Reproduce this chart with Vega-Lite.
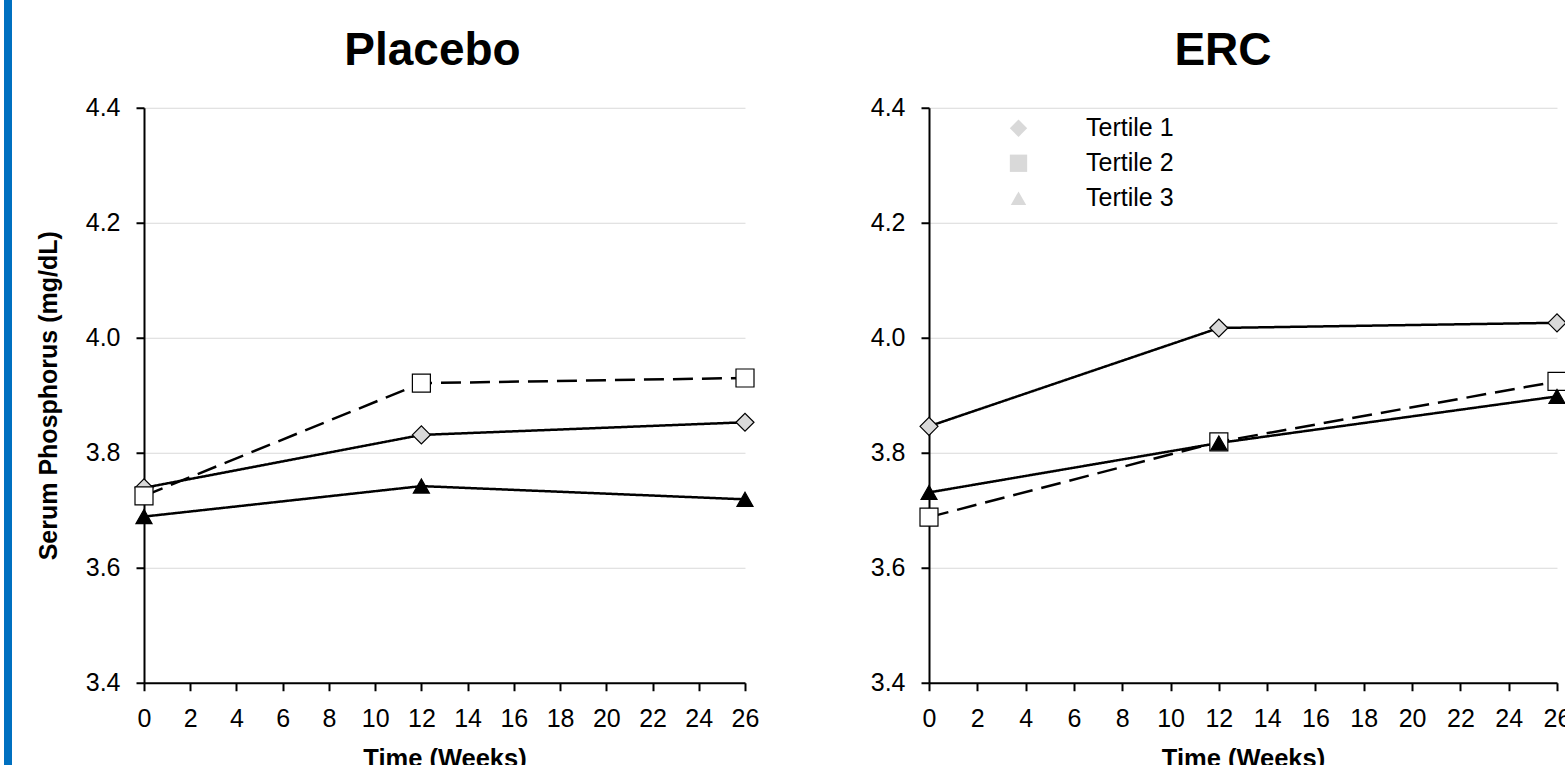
{
  "$schema": "https://vega.github.io/schema/vega-lite/v6.json",
  "background": "white",
  "padding": {"left": 4, "top": 0, "right": 0, "bottom": 0},
  "autosize": {"type": "pad"},
  "config": {
    "font": "Liberation Sans",
    "view": {"stroke": null},
    "axis": {
      "labelFont": "Liberation Sans", "labelFontSize": 25, "labelColor": "black",
      "titleFont": "Liberation Sans", "titleFontSize": 25.5, "titleFontWeight": "bold", "titleColor": "black",
      "domainColor": "black", "domainWidth": 2, "tickColor": "black", "tickWidth": 2, "tickSize": 8,
      "labelPadding": 16, "gridColor": "#d9d9d9", "gridWidth": 1, "labelFlush": false, "labelOverlap": false
    },
    "axisX": {"grid": false, "titlePadding": 15},
    "axisY": {"grid": true, "titlePadding": 24, "titleFontSize": 25},
    "title": {"font": "Liberation Sans", "fontSize": 46, "fontWeight": "bold", "color": "black", "anchor": "middle", "frame": "group", "baseline": "alphabetic", "offset": 21},
    "legend": {
      "labelFont": "Liberation Sans", "labelFontSize": 25, "labelColor": "black",
      "symbolSize": 300, "symbolStrokeWidth": 1.2, "symbolStrokeColor": "black", "symbolOpacity": 1,
      "symbolBaseFillColor": "#d9d9d9",
      "symbolOffset": 23, "labelOffset": 55, "rowPadding": 9, "padding": 0
    }
  },
  "datasets": {
    "phos": [
      {"panel": "Placebo", "tertile": "Tertile 1", "week": 0, "value": 3.739},
      {"panel": "Placebo", "tertile": "Tertile 1", "week": 12, "value": 3.831},
      {"panel": "Placebo", "tertile": "Tertile 1", "week": 26, "value": 3.853},
      {"panel": "Placebo", "tertile": "Tertile 2", "week": 0, "value": 3.725},
      {"panel": "Placebo", "tertile": "Tertile 2", "week": 12, "value": 3.921},
      {"panel": "Placebo", "tertile": "Tertile 2", "week": 26, "value": 3.930},
      {"panel": "Placebo", "tertile": "Tertile 3", "week": 0, "value": 3.689},
      {"panel": "Placebo", "tertile": "Tertile 3", "week": 12, "value": 3.742},
      {"panel": "Placebo", "tertile": "Tertile 3", "week": 26, "value": 3.719},
      {"panel": "ERC", "tertile": "Tertile 1", "week": 0, "value": 3.846},
      {"panel": "ERC", "tertile": "Tertile 1", "week": 12, "value": 4.017},
      {"panel": "ERC", "tertile": "Tertile 1", "week": 26, "value": 4.026},
      {"panel": "ERC", "tertile": "Tertile 2", "week": 0, "value": 3.688},
      {"panel": "ERC", "tertile": "Tertile 2", "week": 12, "value": 3.819},
      {"panel": "ERC", "tertile": "Tertile 2", "week": 26, "value": 3.924},
      {"panel": "ERC", "tertile": "Tertile 3", "week": 0, "value": 3.731},
      {"panel": "ERC", "tertile": "Tertile 3", "week": 12, "value": 3.817},
      {"panel": "ERC", "tertile": "Tertile 3", "week": 26, "value": 3.898}
    ]
  },
  "center": true,
  "spacing": 111,
  "resolve": {"scale": {"shape": "independent", "fill": "independent", "strokeDash": "independent"}, "legend": {"shape": "independent", "fill": "independent", "strokeDash": "independent"}},
  "hconcat": [
    {
      "center": true,
      "spacing": 24,
      "hconcat": [
        {
          "width": 8,
          "height": 880,
          "data": {"values": [{"item": "edge"}]},
          "mark": {"type": "rect", "color": "#0070C0"},
          "encoding": {},
          "view": {"fill": "#0070C0", "stroke": null}
        },
        {
          "width": 601,
          "height": 575,
          "title": {"text": "Placebo", "dx": -12},
          "data": {"name": "phos"},
          "transform": [{"filter": "datum.panel === 'Placebo'"}],
          "encoding": {
            "x": {"field": "week", "type": "quantitative", "scale": {"domain": [0, 26], "nice": false, "zero": false},
                  "axis": {"values": [0, 2, 4, 6, 8, 10, 12, 14, 16, 18, 20, 22, 24, 26], "title": "Time (Weeks)"}},
            "y": {"field": "value", "type": "quantitative", "scale": {"domain": [3.4, 4.4], "nice": false, "zero": false},
                  "axis": {"values": [3.4, 3.6, 3.8, 4.0, 4.2, 4.4], "format": ".1f", "title": "Serum Phosphorus (mg/dL)"}}
          },
          "layer": [
            {
              "mark": {"type": "line", "color": "black", "strokeWidth": 2.5},
              "encoding": {
                "detail": {"field": "tertile", "type": "nominal"},
                "strokeDash": {"field": "tertile", "type": "nominal",
                  "scale": {"domain": ["Tertile 1", "Tertile 2", "Tertile 3"], "range": [[1, 0], [20, 9], [1, 0]]}, "legend": null}
              }
            },
            {
              "mark": {"type": "point", "filled": true, "opacity": 1, "stroke": "black", "strokeWidth": 1.2, "size": 324},
              "encoding": {
                "shape": {"field": "tertile", "type": "nominal",
                  "scale": {"domain": ["Tertile 1", "Tertile 2", "Tertile 3"], "range": ["M-1,0L0,-1L1,0L0,1Z", "M-1,-1H1V1H-1Z", "M-0.89,0.78L0,-0.78L0.89,0.78Z"]}, "legend": null},
                "fill": {"field": "tertile", "type": "nominal",
                  "scale": {"domain": ["Tertile 1", "Tertile 2", "Tertile 3"], "range": ["#d9d9d9", "#ffffff", "#000000"]}, "legend": null}
              }
            }
          ]
        }
      ]
    },
    {
      "width": 628,
      "height": 575,
      "title": {"text": "ERC", "dx": -20},
      "data": {"name": "phos"},
      "transform": [{"filter": "datum.panel === 'ERC'"}],
      "encoding": {
        "x": {"field": "week", "type": "quantitative", "scale": {"domain": [0, 26], "nice": false, "zero": false},
              "axis": {"values": [0, 2, 4, 6, 8, 10, 12, 14, 16, 18, 20, 22, 24, 26], "title": "Time (Weeks)"}},
        "y": {"field": "value", "type": "quantitative", "scale": {"domain": [3.4, 4.4], "nice": false, "zero": false},
              "axis": {"values": [3.4, 3.6, 3.8, 4.0, 4.2, 4.4], "format": ".1f", "title": null}}
      },
      "layer": [
        {
          "mark": {"type": "line", "color": "black", "strokeWidth": 2.5},
          "encoding": {
            "detail": {"field": "tertile", "type": "nominal"},
            "strokeDash": {"field": "tertile", "type": "nominal",
              "scale": {"domain": ["Tertile 3", "Tertile 2", "Tertile 1"], "range": [[1, 0], [20, 9], [1, 0]]}, "legend": null}
          }
        },
        {
          "mark": {"type": "point", "filled": true, "opacity": 1, "stroke": "black", "strokeWidth": 1.2, "size": 324},
          "encoding": {
            "shape": {"field": "tertile", "type": "nominal",
              "scale": {"domain": ["Tertile 1", "Tertile 2", "Tertile 3"], "range": ["M-1,0L0,-1L1,0L0,1Z", "M-1,-1H1V1H-1Z", "M-0.89,0.78L0,-0.78L0.89,0.78Z"]},
              "legend": {
                "title": null, "orient": "none", "legendX": 54, "legendY": 8,
                "encode": {
                  "symbols": {
                    "fill": {"condition": [
                      {"test": "datum.value === 'Tertile 1'", "value": "#d9d9d9"},
                      {"test": "datum.value === 'Tertile 2'", "value": "#ffffff"}],
                      "value": "#000000"},
                    "stroke": {"value": "#000000"},
                    "strokeWidth": {"value": 1.2},
                    "opacity": {"value": 1}
                  }
                }
              }},
            "fill": {"field": "tertile", "type": "nominal",
              "scale": {"domain": ["Tertile 3", "Tertile 1", "Tertile 2"], "range": ["#000000", "#d9d9d9", "#ffffff"]}, "legend": null}
          }
        }
      ]
    }
  ]
}
